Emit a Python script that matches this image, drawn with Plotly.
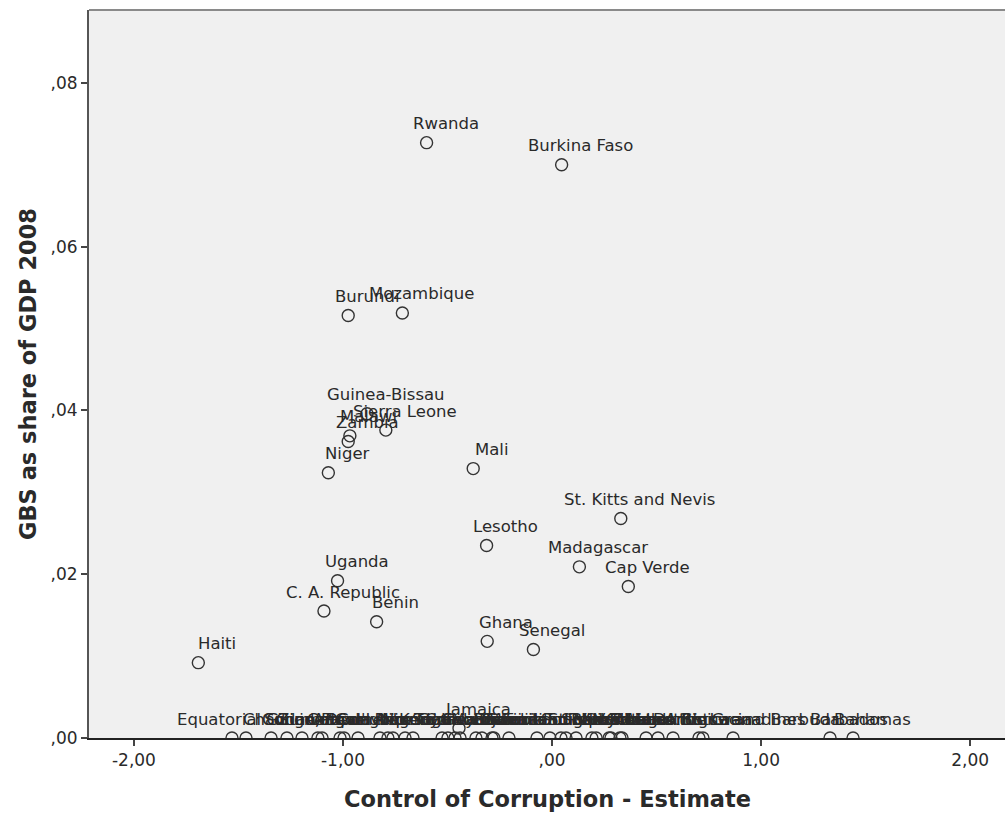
import plotly.graph_objects as go

# Countries with positive general budget support (GBS) in 2008
countries = [
    "Rwanda", "Burkina Faso", "Burundi", "Mozambique", "Guinea-Bissau",
    "Sierra Leone", "Malawi", "Zambia", "Niger", "Mali",
    "St. Kitts and Nevis", "Lesotho", "Madagascar", "Cap Verde", "Uganda",
    "C. A. Republic", "Benin", "Ghana", "Senegal", "Haiti", "Jamaica",
]
corruption = [
    -0.600, 0.046, -0.975, -0.716, -0.885,
    -0.795, -0.967, -0.975, -1.070, -0.377,
    0.329, -0.313, 0.131, 0.365, -1.026,
    -1.091, -0.839, -0.310, -0.089, -1.692, -0.445,
]
gbs_share = [
    0.0727, 0.0700, 0.0516, 0.0519, 0.0396,
    0.0376, 0.0369, 0.0362, 0.0324, 0.0329,
    0.0268, 0.0235, 0.0209, 0.0185, 0.0192,
    0.0155, 0.0142, 0.0118, 0.0108, 0.0092, 0.0012,
]

# Countries without GBS in 2008
zero_countries = [
    "Equatorial Guinea", "Chad", "Sudan", "Guinea", "Zimbabwe",
    "Congo, Dem. Rep.", "Angola", "Cote d'Ivoire", "Congo", "Cameroon",
    "Papua New Guinea", "Liberia", "Nigeria", "Kenya", "Togo",
    "Comoros", "Gabon", "Guyana", "Solomon Islands", "Mauritania",
    "Eritrea", "Djibouti", "Gambia", "Swaziland", "Dominican Republic",
    "Tonga", "Suriname", "Trinidad and Tobago", "Belize", "South Africa",
    "Namibia", "Vanuatu", "Seychelles", "Samoa", "Grenada",
    "Mauritius", "St. Vincent and the Grenadines", "Dominica", "St. Lucia",
    "Botswana", "Antigua and Barbuda", "Barbados", "Bahamas",
]
zero_corruption = [
    -1.531, -1.464, -1.344, -1.268, -1.196,
    -1.120, -1.100, -1.014, -0.995, -0.928,
    -0.823, -0.785, -0.761, -0.703, -0.665,
    -0.526, -0.498, -0.464, -0.440, -0.364,
    -0.335, -0.287, -0.278, -0.206, -0.072,
    -0.010, 0.043, 0.067, 0.115, 0.191,
    0.211, 0.273, 0.282, 0.325, 0.335,
    0.450, 0.507, 0.579, 0.703,
    0.722, 0.866, 1.330, 1.440,
]
zero_gbs = [0.0] * len(zero_countries)

y_ticks = [0.0, 0.02, 0.04, 0.06, 0.08]
y_tick_text = [",00", ",02", ",04", ",06", ",08"]
x_ticks = [-2, -1, 0, 1, 2]
x_tick_text = ["-2,00", "-1,00", ",00", "1,00", "2,00"]

x_title = "Control of Corruption - Estimate"
y_title = "GBS as share of GDP 2008"

all_names = zero_countries + countries
all_x = zero_corruption + corruption
all_y = zero_gbs + gbs_share

FONT = "DejaVu Sans"
INK = "#2a2a2a"

fig = go.Figure()
fig.add_trace(go.Scatter(
    x=all_x, y=all_y, mode="markers",
    marker=dict(symbol="circle-open", size=12, color="#333333",
                line=dict(width=1.4, color="#333333")),
    cliponaxis=True, hoverinfo="text", hovertext=all_names,
    showlegend=False,
))

# Country labels sit above and slightly right of each marker
annotations = [
    dict(x=x, y=y, text=name, showarrow=False, xref="x", yref="y",
         xanchor="center", yanchor="middle", xshift=19, yshift=19,
         font=dict(family=FONT, size=16.5, color=INK))
    for name, x, y in zip(all_names, all_x, all_y)
]
# Horizontal axis title
annotations.append(dict(
    x=0.5, y=0, xref="paper", yref="paper", text=f"<b>{x_title}</b>",
    showarrow=False, xanchor="center", yanchor="middle", yshift=-61,
    font=dict(family=FONT, size=22.5, color=INK),
))

fig.update_layout(
    width=1005, height=814,
    margin=dict(l=89, r=0, t=10, b=76),
    paper_bgcolor="white", plot_bgcolor="#f0f0f0",
    font=dict(family=FONT, color=INK),
    annotations=annotations,
    shapes=[dict(type="line", xref="paper", yref="paper", x0=0, x1=1,
                 y0=1, y1=1, line=dict(color="#8a8a8a", width=2))],
    xaxis=dict(
        range=[-2.215, 2.167], tickvals=x_ticks, ticktext=x_tick_text,
        ticks="outside", ticklen=6, tickwidth=2, tickcolor="#444444",
        showgrid=False, zeroline=False, showline=True, linecolor="#222222",
        linewidth=2, tickfont=dict(family=FONT, size=17, color=INK),
    ),
    yaxis=dict(
        range=[0, 0.0889], tickvals=y_ticks, ticktext=y_tick_text,
        ticks="outside", ticklen=6, tickwidth=2, tickcolor="#444444",
        showgrid=False, zeroline=False, showline=True, linecolor="#555555",
        linewidth=2, tickfont=dict(family=FONT, size=17, color=INK),
        title=dict(text=f"<b>{y_title}</b>",
                   font=dict(family=FONT, size=22.5, color=INK), standoff=8),
    ),
)

fig.write_html("out.html")
